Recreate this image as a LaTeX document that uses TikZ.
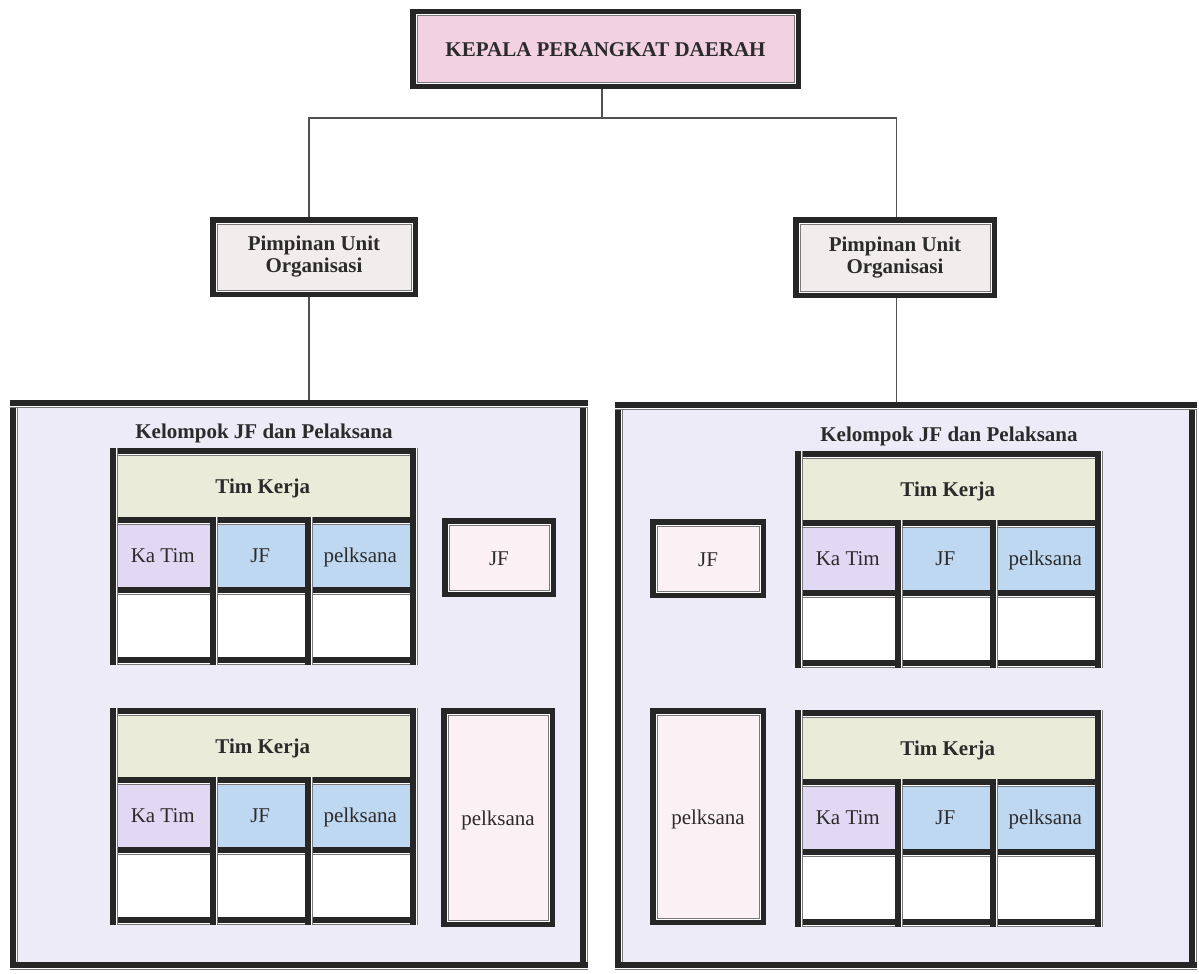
\documentclass[tikz,border=0pt]{standalone}
\usepackage{fontspec}
\setmainfont{Liberation Serif}

\definecolor{ink}{HTML}{262626}
\definecolor{txt}{HTML}{2B2B2B}
\definecolor{thinline}{HTML}{7A7A7A}
\definecolor{headfill}{HTML}{F2D1E1}
\definecolor{unitfill}{HTML}{F2EDED}
\definecolor{panelfill}{HTML}{ECEBF7}
\definecolor{hdrfill}{HTML}{EAEBD8}
\definecolor{katimfill}{HTML}{E1D9F4}
\definecolor{bluefill}{HTML}{BFD8F1}
\definecolor{softfill}{HTML}{FBF0F4}

% horizontal rule: heavy band, then a white and a grey hairline below it
\newcommand\ruleH[3]{%
  \fill[ink] (#2,#1) rectangle (#3,#1+5.8);
  \draw[white,line width=1pt] (#2,#1+6.3) -- (#3,#1+6.3);
  \draw[thinline,line width=1pt] (#2,#1+7.3) -- (#3,#1+7.3);}
% vertical rule: heavy band, then a white and a grey hairline to its right
\newcommand\ruleV[3]{%
  \fill[ink] (#1,#2) rectangle (#1+5.8,#3);
  \draw[white,line width=1pt] (#1+6.3,#2) -- (#1+6.3,#3);
  \draw[thinline,line width=1pt] (#1+7.3,#2) -- (#1+7.3,#3);}

% one work-team table: header row, role row, empty row
\newcommand\timtable[3]{%
\begin{scope}[shift={(#2,#3)}]
  \node[hdrcell] (#1-hd) at (152.75,37.25) {Tim Kerja};
  \node[cell, fill=katimfill, minimum width=94.5pt] (#1-ka) at (52.75,106.75) {Ka Tim};
  \node[cell, fill=bluefill, minimum width=89.5pt] (#1-jf) at (150.25,106.75) {JF};
  \node[cell, fill=bluefill, minimum width=99.5pt] (#1-pl) at (250.25,106.75) {pelksana};
  \node[cell, fill=white, minimum width=94.5pt] (#1-e1) at (52.75,176.75) {};
  \node[cell, fill=white, minimum width=89.5pt] (#1-e2) at (150.25,176.75) {};
  \node[cell, fill=white, minimum width=99.5pt] (#1-e3) at (250.25,176.75) {};
  \ruleH{0}{0}{308}\ruleH{69}{0}{308}\ruleH{139}{0}{308}\ruleH{209}{0}{308}
  \ruleV{0}{0}{217}\ruleV{300}{0}{217}\ruleV{100}{69}{217}\ruleV{195}{69}{217}
\end{scope}}

\begin{document}
\begin{tikzpicture}[x=1pt,y=-1pt,
  regular/.style={text=txt, font=\fontsize{21}{22}\selectfont},
  bold/.style={text=txt, font=\bfseries\fontsize{21}{22}\selectfont},
  line/.style={text height=16pt, text depth=0pt},
  framed/.style={draw=ink, line width=5.5pt, inner sep=0pt, align=center,
    path picture={
      \draw[white,line width=1pt]
        ([shift={(3.25pt,-3.25pt)}]path picture bounding box.north west) rectangle
        ([shift={(-3.25pt,3.25pt)}]path picture bounding box.south east);
      \draw[thinline,line width=1pt]
        ([shift={(4.25pt,-4.25pt)}]path picture bounding box.north west) rectangle
        ([shift={(-4.25pt,4.25pt)}]path picture bounding box.south east);}},
  panel/.style={fill=panelfill, inner sep=0pt, anchor=north west},
  cell/.style={regular, line, inner sep=0pt, minimum height=64.5pt},
  hdrcell/.style={bold, line, fill=hdrfill, inner sep=0pt, minimum width=294.5pt, minimum height=63.5pt},
  conn/.style={draw=ink!80, line width=1.1pt}]

\useasboundingbox (0,0) rectangle (1199,974);
\fill[white] (0,0) rectangle (1199,974);

% group panels
\node[panel, minimum width=576pt, minimum height=568pt] (grpL) at (10,400) {};
\node[panel, minimum width=576pt, minimum height=566pt] (grpR) at (615,402) {};
\ruleV{10}{400}{970}\ruleV{580}{400}{970}\ruleH{400}{10}{588}\ruleH{962}{10}{588}
\ruleV{615}{402}{970}\ruleV{1189}{402}{970}\ruleH{402}{615}{1197}\ruleH{962}{615}{1197}

\node[bold, line] (kelL) at (264,430) {Kelompok JF dan Pelaksana};
\node[bold, line] (kelR) at (949,433) {Kelompok JF dan Pelaksana};

% work teams
\timtable{tkA}{110}{448}
\timtable{tkB}{110}{708}
\timtable{tkC}{795}{451}
\timtable{tkD}{795}{710}

% single functional posts and executors
\node[framed, regular, line, fill=softfill, minimum width=108.5pt, minimum height=73.5pt] (jfL) at (499,557.5) {JF};
\node[framed, regular, line, fill=softfill, minimum width=108.5pt, minimum height=213.5pt] (plL) at (498,817.5) {pelksana};
\node[framed, regular, line, fill=softfill, minimum width=110.5pt, minimum height=73.5pt] (jfR) at (708,558.5) {JF};
\node[framed, regular, line, fill=softfill, minimum width=110.5pt, minimum height=211.5pt] (plR) at (708,816.5) {pelksana};

% head and unit leaders
\node[framed, bold, line, fill=headfill, minimum width=385.5pt, minimum height=74.5pt] (kepala) at (605.5,49) {KEPALA PERANGKAT DAERAH};
\node[framed, bold, fill=unitfill, minimum width=202.5pt, minimum height=74.5pt] (pimL) at (314,257) {Pimpinan Unit\\Organisasi};
\node[framed, bold, fill=unitfill, minimum width=198.5pt, minimum height=75.5pt] (pimR) at (895,257.5) {Pimpinan Unit\\Organisasi};

% connectors
\coordinate (bus) at (0,118);
\coordinate (kepalaFoot) at ([xshift=-3.5pt]kepala.south);
\coordinate (pimLTop) at ([xshift=-5pt]pimL.north);
\coordinate (pimRTop) at ([xshift=1.5pt]pimR.north);
\draw[conn] (kepalaFoot) -- (kepalaFoot |- bus);
\draw[conn] (pimLTop) |- (bus -| pimRTop) -- (pimRTop);
\draw[conn] (pimL.south -| pimLTop) -- (grpL.north -| pimLTop);
\draw[conn] (pimR.south -| pimRTop) -- (grpR.north -| pimRTop);
\end{tikzpicture}
\end{document}
